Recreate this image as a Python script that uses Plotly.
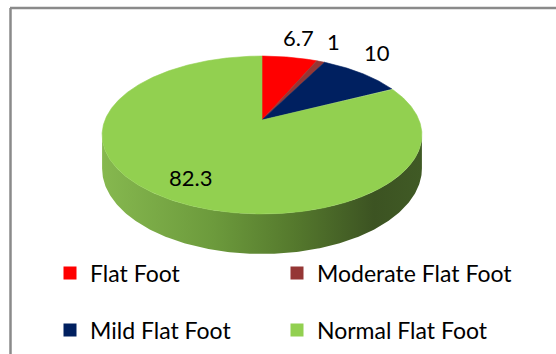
import numpy as np
import plotly.graph_objects as go

# ---- data ----
categories = ["Flat Foot", "Moderate Flat Foot", "Mild Flat Foot", "Normal Flat Foot"]
values = [6.7, 1, 10, 82.3]
label_text = ["6.7", "1", "10", "82.3"]

# ---- styles ----
colors = ["#FF0000", "#953735", "#002060", "#92D050"]
side_scale = [[0.0, "#86b84f"], [0.35, "#6c9a3c"], [0.6, "#55792d"], [0.85, "#3c5322"], [1.0, "#405a25"]]
label_pos = [(298, 37), (333, 41), (377, 52), (190, 177)]
legend_pos = [(50, 273), (277, 273), (50, 330), (277, 330)]   # pixel anchor of each legend entry
FONT = "Lato"

W, H = 556, 354
CX, CY = 262, 120        # pie apex (pixel-like axis units)
RX, RY = 157, 76.1       # radii of the tilted disc
K = 0.19                 # perspective factor
DEPTH = 40               # thickness at the front


def proj(theta):
    """theta: degrees clockwise from 12 o'clock -> projected x, y, w."""
    t = np.radians(theta)
    x = np.sin(t)
    z = np.cos(t)
    w = 1 + K * z
    return CX + RX * x / w, CY - RY * z / w, w


fig = go.Figure()

# side wall (front half is entirely the last slice)
th_r = np.degrees(np.arccos(-K))
th_l = 360 - th_r
ts = np.linspace(th_r, th_l, 240)
xs, ys, ws = proj(ts)
yb = ys + DEPTH * (1 - K) / ws
fig.add_trace(go.Scatter(
    x=np.concatenate([xs, xs[::-1]]),
    y=np.concatenate([ys, yb[::-1]]),
    mode="lines", fill="toself", line=dict(width=0),
    fillgradient=dict(type="horizontal", colorscale=side_scale),
    hoverinfo="skip", showlegend=False,
))

# top face slices
total = float(sum(values))
start = 0.0
for cat, v, c in zip(categories, values, colors):
    end = start + v / total * 360.0
    n = max(3, int((end - start) * 2))
    ts = np.linspace(start, end, n)
    xs, ys, _ = proj(ts)
    fig.add_trace(go.Scatter(
        x=np.concatenate([[CX], xs, [CX]]),
        y=np.concatenate([[CY], ys, [CY]]),
        mode="lines", fill="toself", fillcolor=c,
        line=dict(width=0.6, color=c),
        name=cat, hoverinfo="name", showlegend=False,
    ))
    start = end

# legend entries: one legend per entry for exact grid placement
legend_names = ["legend", "legend2", "legend3", "legend4"]
for cat, c, lg in zip(categories, colors, legend_names):
    fig.add_trace(go.Scatter(
        x=[None], y=[None], mode="markers",
        marker=dict(symbol="square", size=13, color=c),
        name=cat, legend=lg,
    ))

# data labels
for (lx, ly), t in zip(label_pos, label_text):
    fig.add_annotation(x=lx, y=ly, text=t, showarrow=False,
                       font=dict(family=FONT, size=22, color="#000000"))

# chart frame
fig.add_shape(type="line", x0=10, x1=W, y0=8, y1=8, line=dict(color="#8a8a8a", width=2.5))
fig.add_shape(type="line", x0=10.5, x1=10.5, y0=8, y1=H, line=dict(color="#8a8a8a", width=2.5))

leg_common = dict(orientation="h", xanchor="left", yanchor="middle",
                  font=dict(family=FONT, size=23, color="#000000"),
                  bgcolor="rgba(0,0,0,0)", borderwidth=0)
legends = {lg: dict(x=px / W, y=1 - py / H, **leg_common)
           for lg, (px, py) in zip(legend_names, legend_pos)}

fig.update_layout(
    width=W, height=H,
    margin=dict(l=0, r=0, t=0, b=0),
    paper_bgcolor="white", plot_bgcolor="white",
    xaxis=dict(range=[0, W], visible=False, fixedrange=True),
    yaxis=dict(range=[H, 0], visible=False, fixedrange=True),
    showlegend=True,
    **legends,
)

fig.write_html("out.html")
